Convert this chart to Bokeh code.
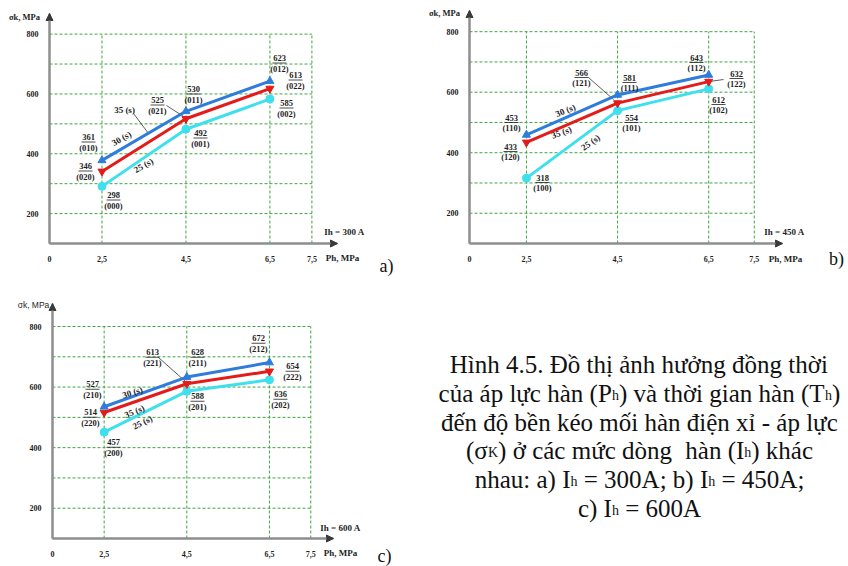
import math
import unicodedata
from bokeh.plotting import figure
from bokeh.layouts import row, column
from bokeh.models import (Range1d, FixedTicker, Label, LabelSet, ColumnDataSource,
                          Arrow, NormalHead)
from bokeh.core.properties import value
from bokeh.embed import file_html
from bokeh.resources import INLINE

# ------------------------------------------------------------------ data
P_H = [2.5, 4.5, 6.5]                       # welding pressure Ph, MPa
X_TICKS = [1.25, 2.5, 4.5, 6.5, 7.5]        # first tick is the (broken) origin "0"
X_TICK_LABELS = ["0", "2,5", "4,5", "6,5", "7,5"]
Y_TICKS = [200, 400, 600, 800]
GRID_X = [2.5, 4.5, 6.5, 7.5]
GRID_Y = [200, 300, 400, 500, 600, 700, 800]
Y_ORIGIN = 100
SERIES_NAMES = ["30 (s)", "35 (s)", "25 (s)"]

# a) Ih = 300 A  (sigma_k, MPa as drawn)
A_30 = [378, 542, 643]
A_35 = [341, 517, 618]
A_25 = [291, 482, 583]
A_VAL = [["361", "530", "623"], ["346", "525", "613"], ["298", "492", "585"]]
A_CODE = [["(010)", "(011)", "(012)"], ["(020)", "(021)", "(022)"], ["(000)", "(001)", "(002)"]]

# b) Ih = 450 A
B_30 = [459, 591, 657]
B_35 = [434, 564, 635]
B_25 = [316, 539, 611]
B_VAL = [["453", "581", "643"], ["433", "566", "632"], ["318", "554", "612"]]
B_CODE = [["(110)", "(111)", "(112)"], ["(120)", "(121)", "(122)"], ["(100)", "(101)", "(102)"]]

# c) Ih = 600 A
C_30 = [535, 633, 681]
C_35 = [516, 611, 652]
C_25 = [451, 586, 624]
C_VAL = [["527", "628", "672"], ["514", "613", "654"], ["457", "588", "636"]]
C_CODE = [["(210)", "(211)", "(212)"], ["(220)", "(221)", "(222)"], ["(200)", "(201)", "(202)"]]

CAPTION = [
    [("Hình 4.5. Đồ thị ảnh hưởng đồng thời", 0)],
    [("của áp lực hàn (P", 0), ("h", 1), (") và thời gian hàn (T", 0), ("h", 1), (")", 0)],
    [("đến độ bền kéo mối hàn điện xỉ - áp lực", 0)],
    [("(σ", 0), ("K", 1), (") ở các mức dòng", 0), ("  hàn (I", 0), ("h", 1), (") khác", 0)],
    [("nhau: a) I", 0), ("h", 1), (" = 300A; b) I", 0), ("h", 1), (" = 450A;", 0)],
    [("c) I", 0), ("h", 1), (" = 600A", 0)],
]

# ------------------------------------------------------------------ style / layout
BLUE, RED, CYAN = "#2E7CDB", "#E41B1B", "#3FE0EE"
COLORS = [BLUE, RED, CYAN]
MARKERS = ["triangle", "inverted_triangle", "circle"]
MSIZE = [8, 8, 8]
GREEN = "#3FA544"
AXIS = "#8E8E8E"
TXT = "#1E1E1E"
SERIF = "Liberation Serif"

# L/R/T/B: pixel box of the axes (origin .. arrow tips); xr/yr: data values there
GEO_A = dict(w=420, h=280, L=49, R=337, T=13, B=243, xr=(1.25, 8.11), yr=(100, 869))
GEO_B = dict(w=428, h=280, L=49, R=362, T=10, B=243, xr=(1.25, 8.12), yr=(100, 870))
GEO_C = dict(w=420, h=286, L=52, R=333, T=23, B=258, xr=(1.25, 8.05), yr=(100, 876))

LAB_A = [[(88, 136), (193, 88), (279, 57)], [(85, 165), (157, 99), (295, 74)], [(113, 194), (200, 132), (286, 102)]]
LAB_B = [[(91, 117), (209, 77), (276, 57)], [(90, 146), (161, 72), (316, 73)], [(122, 177), (211, 117), (298, 99)]]
LAB_C = [[(92, 103), (197, 71), (258, 57)], [(90, 131), (152, 71), (292, 85)], [(113, 161), (197, 115), (280, 113)]]

LINE_LAB_A = [(121, 138, 30), (124, 109, 0), (143, 165, 30)]
LINE_LAB_B = [(145, 110, 23), (141, 132, 20), (170, 142, 35)]
LINE_LAB_C = [(132, 112, 17), (134, 131, 22), (142, 142, 26)]

LEAD_A = [((133, 113), (148, 133)), ((166, 105), (183, 116))]
LEAD_B = [((168, 77), (193, 99)), ((303, 79), (289, 81))]
LEAD_C = [((158, 77), (185, 101))]

TXT_A = dict(sig=(24, 16), ih=(344, 231), ph=(342, 257), letter=(386, 265))
TXT_B = dict(sig=(24, 12), ih=(364, 231), ph=(365, 258), letter=(416, 258))
TXT_C = dict(sig=(33, 24), ih=(340, 247), ph=(340, 272), letter=(384, 275))


def px2d(g, px, py):
    x0, x1 = g["xr"]
    y0, y1 = g["yr"]
    x = x0 + (px - g["L"]) / (g["R"] - g["L"]) * (x1 - x0)
    y = y0 + (g["B"] - py) / (g["B"] - g["T"]) * (y1 - y0)
    return x, y


def build_panel(g, series, vals, codes, lab_pos, code_gap, line_labs, leaders,
                ih_text, tpos, letter, sig_bold):
    # the frame covers the whole panel; axes are pinned at the origin
    xs0, ys0 = px2d(g, 0, g["h"])
    xs1, ys1 = px2d(g, g["w"], 0)
    p = figure(width=g["w"], height=g["h"], x_range=Range1d(xs0, xs1), y_range=Range1d(ys0, ys1),
               output_backend="svg", toolbar_location=None, title=None,
               min_border_left=0, min_border_right=0, min_border_top=0, min_border_bottom=0)
    p.outline_line_color = None
    p.xgrid.visible = False
    p.ygrid.visible = False

    xr0, xr1 = g["xr"]
    yr0, yr1 = g["yr"]
    for ax in (p.xaxis[0], p.yaxis[0]):
        ax.axis_line_color = AXIS
        ax.axis_line_width = 2
        ax.major_tick_line_color = None
        ax.minor_tick_line_color = None
        ax.major_label_text_font = SERIF
        ax.major_label_text_font_style = "bold"
        ax.major_label_text_font_size = "8px"
        ax.major_label_text_color = TXT
    p.xaxis.fixed_location = yr0
    p.xaxis.bounds = (xr0, xr1)
    p.xaxis.ticker = FixedTicker(ticks=X_TICKS)
    p.xaxis.major_label_overrides = dict(zip(X_TICKS, X_TICK_LABELS))
    p.xaxis.major_label_standoff = 6
    p.yaxis.fixed_location = xr0
    p.yaxis.bounds = (yr0, yr1)
    p.yaxis.ticker = FixedTicker(ticks=Y_TICKS)
    p.yaxis.major_label_standoff = 5

    # dashed grid limited to the box 0..7.5 x 100..800
    p.segment(x0=GRID_X, y0=[Y_ORIGIN] * len(GRID_X), x1=GRID_X, y1=[max(GRID_Y)] * len(GRID_X),
              line_color=GREEN, line_width=1, line_dash="3 2")
    p.segment(x0=[X_TICKS[0]] * len(GRID_Y), y0=GRID_Y, x1=[max(GRID_X)] * len(GRID_Y), y1=GRID_Y,
              line_color=GREEN, line_width=1, line_dash="3 2")

    # axis arrow heads
    for xe, ye in ((xr0, yr1), (xr1, yr0)):
        p.add_layout(Arrow(end=NormalHead(size=7, fill_color="#3A3A3A", line_color="#3A3A3A",
                                          line_width=1),
                           x_start=xr0, y_start=yr0, x_end=xe, y_end=ye,
                           line_color=AXIS, line_width=2))

    # leader lines
    for (a, b) in leaders:
        xa, ya = px2d(g, *a)
        xb, yb = px2d(g, *b)
        p.segment(x0=[xa], y0=[ya], x1=[xb], y1=[yb], line_color="#333", line_width=0.8)

    # data lines
    for si in (2, 1, 0):
        ys = series[si]
        p.line(P_H, ys, line_color=COLORS[si], line_width=3)
        p.scatter(P_H, ys, marker=MARKERS[si], size=MSIZE[si], fill_color=COLORS[si],
                  line_color=COLORS[si])

    # value / code fraction labels
    nx, ny, nt, cx, cy, ct = [], [], [], [], [], []
    bx0, bx1, by = [], [], []
    for si in range(3):
        for k in range(3):
            px, py = lab_pos[si][k]
            x, y = px2d(g, px, py)
            nx.append(x); ny.append(y); nt.append(vals[si][k])
            x, y = px2d(g, px, py + code_gap)
            cx.append(x); cy.append(y); ct.append(codes[si][k])
            xa, yb_ = px2d(g, px - 7, py + code_gap * 0.5)
            xb, _ = px2d(g, px + 7, py + code_gap * 0.5)
            bx0.append(xa); bx1.append(xb); by.append(yb_)
    p.segment(x0=bx0, y0=by, x1=bx1, y1=by, line_color=TXT, line_width=0.8)
    for xs, ys, ts in ((nx, ny, nt), (cx, cy, ct)):
        src = ColumnDataSource(dict(x=xs, y=ys, text=ts))
        p.add_layout(LabelSet(source=src, x="x", y="y", text="text", text_align="center",
                              text_baseline="middle", text_font=value(SERIF),
                              text_font_style="bold", text_font_size="8.5px", text_color=TXT))

    # series name labels along the lines
    for si, (px, py, deg) in enumerate(line_labs):
        x, y = px2d(g, px, py)
        p.add_layout(Label(x=x, y=y, text=SERIES_NAMES[si], angle=math.radians(deg),
                           text_align="center", text_baseline="middle", text_font=SERIF,
                           text_font_style="bold", text_font_size="9px", text_color=TXT))

    def lab(pos, text, size, style="bold", font=SERIF, color=TXT):
        x, y = px2d(g, *pos)
        p.add_layout(Label(x=x, y=y, text=text, text_align="center", text_baseline="middle",
                           text_font=font, text_font_style=style, text_font_size=size,
                           text_color=color))

    if sig_bold:
        lab(tpos["sig"], "σk, MPa", "8.5px")
    else:
        lab(tpos["sig"], "σk, MPa", "8.5px", style="normal", font="Liberation Sans")
    lab(tpos["ih"], ih_text, "9px")
    lab(tpos["ph"], "Ph, MPa", "9px")
    lab(tpos["letter"], letter, "18px", style="normal", color="#111")
    return p


fa = build_panel(GEO_A, [A_30, A_35, A_25], A_VAL, A_CODE, LAB_A, 11, LINE_LAB_A, LEAD_A,
                 "Ih = 300 A", TXT_A, "a)", True)
fb = build_panel(GEO_B, [B_30, B_35, B_25], B_VAL, B_CODE, LAB_B, 10, LINE_LAB_B, LEAD_B,
                 "Ih = 450 A", TXT_B, "b)", True)
fc = build_panel(GEO_C, [C_30, C_35, C_25], C_VAL, C_CODE, LAB_C, 11.5, LINE_LAB_C, LEAD_C,
                 "Ih = 600 A", TXT_C, "c)", False)

# ------------------------------------------------------------------ caption
TIMES_W = {" ": 250, "(": 333, ")": 333, "-": 333, ".": 250, ":": 278, ";": 278, "=": 564,
           "A": 722, "H": 722, "I": 333, "K": 722, "P": 556, "T": 611, "Đ": 722,
           "a": 444, "b": 500, "c": 444, "d": 500, "e": 444, "g": 500, "h": 500, "i": 278,
           "k": 500, "l": 278, "m": 778, "n": 500, "o": 500, "p": 500, "r": 333, "s": 389,
           "t": 278, "u": 500, "v": 500, "x": 500, "y": 500, "đ": 500, "σ": 550}
for dgt in "0123456789":
    TIMES_W[dgt] = 500


def tw(s, size):
    tot = 0
    for ch in s:
        if ch in TIMES_W:
            tot += TIMES_W[ch]
            continue
        d = unicodedata.normalize("NFD", ch)
        w = TIMES_W.get(d[0], 500)
        if "\u031b" in d:
            w += 50
        tot += w
    return tot * size / 1000.0


CAP_W, CAP_H = 428, 286
CAP_CX = 219
CAP_BASE = [84, 113, 141.5, 170, 199, 228]
MAIN_FS, SUB_FS, SUB_DY = 25, 14, 2

cap = figure(width=CAP_W, height=CAP_H, x_range=Range1d(0, CAP_W), y_range=Range1d(CAP_H, 0),
             output_backend="svg", toolbar_location=None, title=None,
             x_axis_type=None, y_axis_type=None,
             min_border_left=0, min_border_right=0, min_border_top=0, min_border_bottom=0)
cap.outline_line_color = None
cap.xgrid.visible = False
cap.ygrid.visible = False
for li, segs in enumerate(CAPTION):
    base = CAP_BASE[li]
    total = sum(tw(t, SUB_FS if sub else MAIN_FS) for t, sub in segs)
    x = CAP_CX - total / 2.0
    for t, sub in segs:
        fs = SUB_FS if sub else MAIN_FS
        st = t.lstrip(" ")
        x += tw(t[:len(t) - len(st)], fs)
        cap.add_layout(Label(x=x, y=base + (SUB_DY if sub else 0), text=st, text_align="left",
                             text_baseline="alphabetic", text_font=SERIF,
                             text_font_size=f"{fs}px", text_color="#111"))
        x += tw(st, fs)

layout = column(row(fa, fb), row(fc, cap))
layout.styles = {"position": "absolute", "left": "0px", "top": "0px"}

open("out.html", "w").write(file_html(layout, INLINE))
